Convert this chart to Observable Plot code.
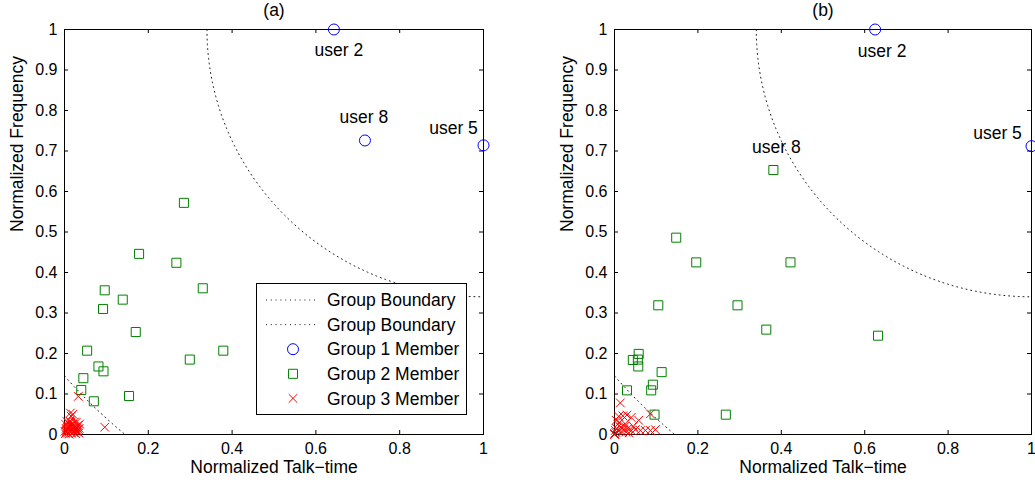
<!DOCTYPE html>
<html>
<head>
<meta charset="utf-8">
<script src="https://cdn.jsdelivr.net/npm/d3@7"></script>
<script src="https://cdn.jsdelivr.net/npm/@observablehq/plot@0.6"></script>
<style>
  body { margin: 0; background: #fff; }
  #chart { position: relative; width: 1035px; height: 484px; font-family: "Liberation Sans", Arial, Helvetica, sans-serif; }
  #chart > * { position: absolute; top: 0; }
</style>
</head>
<body>
<div id="chart"></div>
<script>
// ---- shared axis ticks ----
const xTicks = [0, 0.2, 0.4, 0.6, 0.8, 1];
const xTickLabels = ["0", "0.2", "0.4", "0.6", "0.8", "1"];
const yTicks = [0, 0.1, 0.2, 0.3, 0.4, 0.5, 0.6, 0.7, 0.8, 0.9, 1];
const yTickLabels = ["0", "0.1", "0.2", "0.3", "0.4", "0.5", "0.6", "0.7", "0.8", "0.9", "1"];

// ---- group boundaries: circular arcs around (1, 1) ----
const boundaryCenter = [1, 1];
const boundaryRadii = [0.66, 1.316];

// ---- panel (a) ----
const aGroup1X = [0.643, 0.717, 1.0];
const aGroup1Y = [1.0, 0.726, 0.714];
const aLabelText = ["user 2", "user 8", "user 5"];
const aLabelX = [0.643, 0.717, 1.0];
const aLabelY = [1.0, 0.726, 0.714];

const aGroup2X = [0.285, 0.178, 0.267, 0.330, 0.096, 0.139, 0.092, 0.170, 0.054, 0.379, 0.299, 0.081, 0.093, 0.045, 0.040, 0.154, 0.070];
const aGroup2Y = [0.572, 0.446, 0.424, 0.361, 0.356, 0.333, 0.310, 0.253, 0.207, 0.207, 0.185, 0.168, 0.156, 0.139, 0.110, 0.095, 0.082];

const aGroup3X = [0.033, 0.014, 0.020, 0.016, 0.096, 0.002, 0.005, 0.008, 0.010, 0.012, 0.015, 0.018, 0.020, 0.022, 0.025, 0.028, 0.030, 0.032, 0.035, 0.036, 0.003, 0.006, 0.009, 0.004, 0.013, 0.024, 0.017, 0.027, 0.034, 0.001, 0.031, 0.007, 0.019, 0.026, 0.011, 0.021, 0.029, 0.004, 0.014, 0.023, 0.033, 0.008];
const aGroup3Y = [0.094, 0.053, 0.050, 0.045, 0.018, 0.002, 0.010, 0.004, 0.020, 0.008, 0.030, 0.012, 0.025, 0.005, 0.018, 0.030, 0.010, 0.022, 0.015, 0.026, 0.025, 0.032, 0.028, 0.015, 0.033, 0.031, 0.003, 0.002, 0.004, 0.008, 0.006, 0.018, 0.014, 0.011, 0.001, 0.020, 0.016, 0.006, 0.022, 0.009, 0.012, 0.013];

// ---- panel (b) ----
const bGroup1X = [0.625, 1.0];
const bGroup1Y = [1.0, 0.712];
const bLabelText = ["user 2", "user 8", "user 5"];
const bLabelX = [0.625, 0.381, 1.0];
const bLabelY = [1.0, 0.653, 0.712];

const bGroup2X = [0.381, 0.148, 0.196, 0.422, 0.105, 0.295, 0.364, 0.632, 0.058, 0.044, 0.056, 0.057, 0.113, 0.092, 0.088, 0.030, 0.096, 0.267];
const bGroup2Y = [0.653, 0.486, 0.425, 0.425, 0.319, 0.319, 0.259, 0.244, 0.199, 0.184, 0.185, 0.168, 0.154, 0.123, 0.109, 0.109, 0.049, 0.049];

const bGroup3X = [0.014, 0.010, 0.020, 0.030, 0.040, 0.086, 0.058, 0.026, 0.050, 0.062, 0.074, 0.086, 0.098, 0.000, 0.000, 0.003, 0.005, 0.008, 0.010, 0.012, 0.015, 0.018, 0.022, 0.025, 0.028, 0.032, 0.035, 0.040, 0.045, 0.004, 0.002, 0.001];
const bGroup3Y = [0.078, 0.045, 0.046, 0.048, 0.042, 0.051, 0.035, 0.026, 0.012, 0.010, 0.010, 0.010, 0.012, 0.000, 0.002, 0.005, 0.015, 0.025, 0.008, 0.030, 0.018, 0.005, 0.012, 0.020, 0.006, 0.015, 0.004, 0.010, 0.020, 0.035, 0.010, 0.001];

// ---- legend ----
const legendLabels = ["Group Boundary", "Group Boundary", "Group 1 Member", "Group 2 Member", "Group 3 Member"];

const FONT = '"Liberation Sans", Arial, Helvetica, sans-serif';
const BLUE = "#0000ff", GREEN = "#008000", RED = "#ff0000";
const DOTS = "1,3.8";
const H = 484, MT = 29, MB = 50;
const PH = H - MT - MB; // plot height in px

function arc(radius) {
  const pts = [];
  for (let i = 0; i <= 360; i++) {
    const t = Math.PI + (Math.PI / 2) * (i / 360);
    pts.push({x: boundaryCenter[0] + radius * Math.cos(t), y: boundaryCenter[1] + radius * Math.sin(t)});
  }
  return pts;
}

function pts(xs, ys) { return xs.map((x, i) => ({x, y: ys[i]})); }

function panel({width, marginLeft, marginRight, title, g1, g2, g3, labels, offsets}) {
  const PW = width - marginLeft - marginRight;
  return Plot.plot({
    width, height: H,
    marginTop: MT, marginBottom: MB, marginLeft, marginRight,
    x: {domain: [0, 1]},
    y: {domain: [0, 1]},
    style: {fontFamily: FONT, fontSize: "16px", color: "#000", background: "transparent", overflow: "visible"},
    marks: [
      ...boundaryRadii.map(r => Plot.line(arc(r), {x: "x", y: "y", stroke: "#000", strokeWidth: 0.9, strokeDasharray: DOTS, clip: true})),
      Plot.frame({stroke: "#000", strokeWidth: 1}),
      // inward ticks on all four sides
      Plot.tickX(xTicks, {x: d => d, insetTop: PH - 4, stroke: "#000"}),
      Plot.tickX(xTicks, {x: d => d, insetBottom: PH - 4, stroke: "#000"}),
      Plot.tickY(yTicks, {y: d => d, insetRight: PW - 4, stroke: "#000"}),
      Plot.tickY(yTicks, {y: d => d, insetLeft: PW - 4, stroke: "#000"}),
      Plot.axisX(xTicks, {tickSize: 0, tickPadding: 8, label: null, fontSize: 16, tickFormat: d => xTickLabels[xTicks.indexOf(d)]}),
      Plot.axisY(yTicks, {tickSize: 0, tickPadding: 7, label: null, fontSize: 16, tickFormat: d => yTickLabels[yTicks.indexOf(d)]}),
      Plot.dot(g2, {x: "x", y: "y", symbol: "square", r: 5.1, stroke: GREEN, strokeWidth: 1, fill: "none"}),
      Plot.dot(g3, {x: "x", y: "y", symbol: "times", r: 4, stroke: RED, strokeWidth: 1}),
      Plot.dot(g1, {x: "x", y: "y", symbol: "circle", r: 5.5, stroke: BLUE, strokeWidth: 1, fill: "none"}),
      ...labels.map((d, i) => Plot.text([d], {x: "x", y: "y", text: "t", fontSize: 17.5, fill: "#000", dx: offsets[i][0], dy: offsets[i][1]})),
      Plot.text([title], {frameAnchor: "top", lineAnchor: "middle", dy: -19, fontSize: 17.5, fill: "#000"}),
      Plot.text(["Normalized Talk\u2212time"], {frameAnchor: "bottom", lineAnchor: "middle", dy: 33, fontSize: 17.5, fill: "#000"}),
      Plot.text(["Normalized Frequency"], {frameAnchor: "left", lineAnchor: "middle", dx: -47, rotate: -90, fontSize: 17.5, fill: "#000"})
    ]
  });
}

const chart = document.getElementById("chart");

const left = panel({
  width: 520, marginLeft: 64, marginRight: 37, title: "(a)",
  g1: pts(aGroup1X, aGroup1Y), g2: pts(aGroup2X, aGroup2Y), g3: pts(aGroup3X, aGroup3Y),
  labels: aLabelText.map((t, i) => ({t, x: aLabelX[i], y: aLabelY[i]})),
  offsets: [[5, 21], [-1, -23], [-30, -17]]
});
left.style.left = "0px";
chart.appendChild(left);

const right = panel({
  width: 515, marginLeft: 94, marginRight: 4, title: "(b)",
  g1: pts(bGroup1X, bGroup1Y), g2: pts(bGroup2X, bGroup2Y), g3: pts(bGroup3X, bGroup3Y),
  labels: bLabelText.map((t, i) => ({t, x: bLabelX[i], y: bLabelY[i]})),
  offsets: [[7, 22], [3, -23], [-34, -13]]
});
right.style.left = "520px";
chart.appendChild(right);

// legend box inside panel (a)
const LW = 210, LH = 131;
const legend = d3.create("svg")
  .attr("width", LW + 1).attr("height", LH + 1)
  .style("left", "256px").style("top", "283px")
  .style("font-family", FONT).style("font-size", "17.5px");
legend.append("rect").attr("x", 0.5).attr("y", 0.5).attr("width", LW).attr("height", LH)
  .attr("fill", "#fff").attr("stroke", "#000");
const rowY = i => 17 + i * 24.6;
const symSize = {circle: Math.PI * 5.5 * 5.5, square: Math.PI * 5.1 * 5.1, times: Math.PI * 16};
legendLabels.forEach((label, i) => {
  const y = rowY(i);
  if (i < 2) {
    legend.append("line").attr("x1", 10).attr("x2", 61).attr("y1", y).attr("y2", y)
      .attr("stroke", "#000").attr("stroke-width", 0.9).attr("stroke-dasharray", DOTS);
  } else {
    const kind = [null, null, "circle", "square", "times"][i];
    const type = {circle: d3.symbolCircle, square: d3.symbolSquare, times: d3.symbolTimes}[kind];
    const color = {circle: BLUE, square: GREEN, times: RED}[kind];
    legend.append("path").attr("transform", `translate(37,${y})`)
      .attr("d", d3.symbol(type, symSize[kind])()).attr("fill", "none").attr("stroke", color);
  }
  legend.append("text").attr("x", 71).attr("y", y).attr("dy", "0.35em").attr("fill", "#000").text(label);
});
chart.appendChild(legend.node());
</script>
</body>
</html>
